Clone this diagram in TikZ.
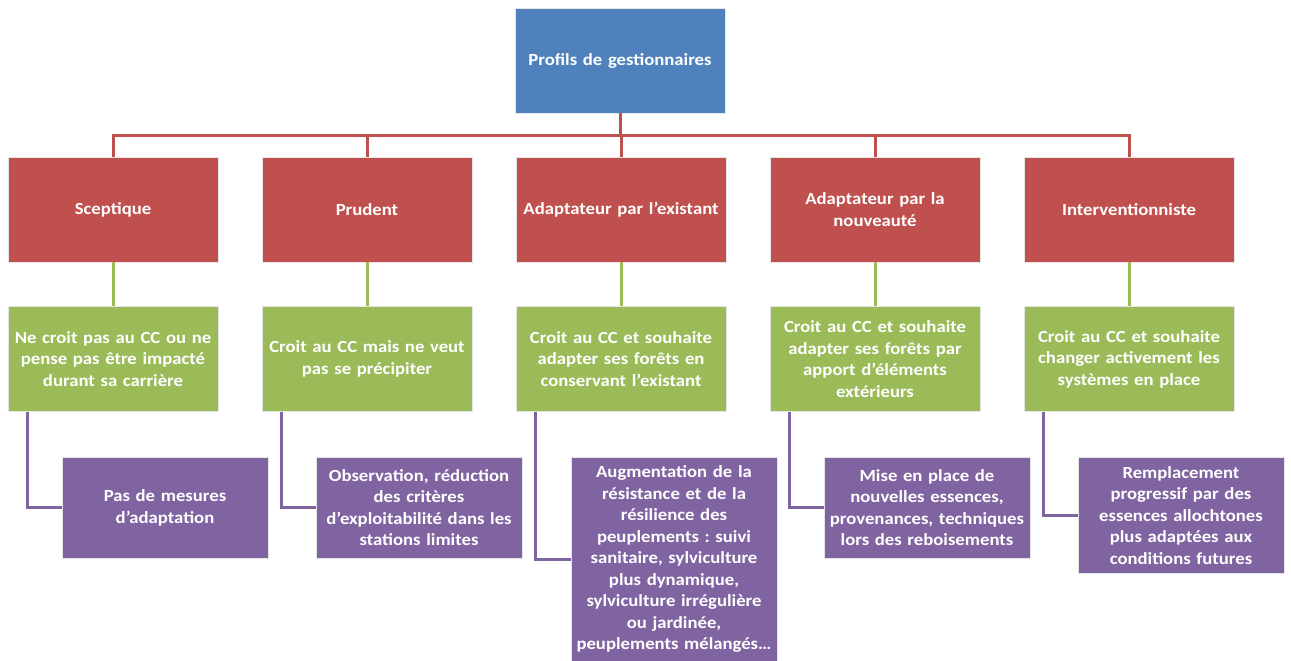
\documentclass[tikz,border=0pt]{standalone}
\usepackage{fontspec}
\setmainfont{Carlito}[FakeStretch=1.1]
\frenchspacing
\definecolor{profblue}{HTML}{4F81BD}
\definecolor{profred}{HTML}{C0504D}
\definecolor{profgreen}{HTML}{9BBB59}
\definecolor{profpurple}{HTML}{8064A2}
\tikzset{
    box/.style={inner xsep=2pt, inner ysep=3pt, align=center, text=white,
        font=\bfseries\fontsize{17}{21.5}\selectfont, draw=white!80!gray, line width=0.6pt},
    headbox/.style={box, fill=profblue, text width=206pt, minimum width=210pt, minimum height=105pt},
    profilebox/.style={box, fill=profred, text width=206pt, minimum width=210pt, minimum height=105pt},
    beliefbox/.style={box, fill=profgreen, text width=206pt, minimum width=210pt, minimum height=105pt},
    measurebox/.style={box, fill=profpurple, text width=202pt, minimum width=206pt, minimum height=101pt, anchor=north},
    redlink/.style={draw=profred, line width=3pt},
    greenlink/.style={draw=profgreen, line width=3pt},
    purplelink/.style={draw=profpurple, line width=3pt}
}
\begin{document}
\begin{tikzpicture}[x=1pt,y=-1pt]
    \useasboundingbox (0,0) rectangle (1291,661);
    % top
    \node[headbox] (head) at (620,60.5) {Profils de gestionnaires};
    \coordinate (bar) at (620,135);
    % profiles
    \node[profilebox] (r1) at (113,209.5) {Sceptique};
    \node[profilebox] (r2) at (367,209.5) {Prudent};
    \node[profilebox] (r3) at (621,209.5) {Adaptateur par l’existant};
    \node[profilebox] (r4) at (875,209.5) {Adaptateur par la\\nouveauté};
    \node[profilebox] (r5) at (1129,209.5) {Interventionniste};
    % beliefs
    \node[beliefbox] (g1) at (113,359) {Ne croit pas au CC ou ne\\pense pas être impacté\\durant sa carrière};
    \node[beliefbox] (g2) at (367,359) {Croit au CC mais ne veut\\pas se précipiter};
    \node[beliefbox] (g3) at (621,359) {Croit au CC et souhaite\\adapter ses forêts en\\conservant l’existant};
    \node[beliefbox] (g4) at (875,359) {Croit au CC et souhaite\\adapter ses forêts par\\apport d’éléments\\extérieurs};
    \node[beliefbox] (g5) at (1129,359) {Croit au CC et souhaite\\changer activement les\\systèmes en place};
    % measures
    \node[measurebox] (p1) at (165,457) {Pas de mesures\\d’adaptation};
    \node[measurebox] (p2) at (419,457) {Observation, réduction\\des critères\\d’exploitabilité dans les\\stations limites};
    \node[measurebox, minimum height=204pt] (p3) at (674,457) {Augmentation de la\\résistance et de la\\résilience des\\peuplements : suivi\\sanitaire, sylviculture\\plus dynamique,\\sylviculture irrégulière\\ou jardinée,\\peuplements mélangés…};
    \node[measurebox] (p4) at (927,457) {Mise en place de\\nouvelles essences,\\provenances, techniques\\lors des reboisements};
    \node[measurebox, minimum height=116pt] (p5) at (1181,457) {Remplacement\\progressif par des\\essences allochtones\\plus adaptées aux\\conditions futures};
    % links
    \foreach \i in {1,...,5} {
        \draw[redlink] (head.south) -- (bar) -| (r\i.north);
        \draw[greenlink] (r\i.south) -- (g\i.north);
        \draw[purplelink] ([xshift=20pt]g\i.south west) |- (p\i.west);
    }
\end{tikzpicture}
\end{document}
